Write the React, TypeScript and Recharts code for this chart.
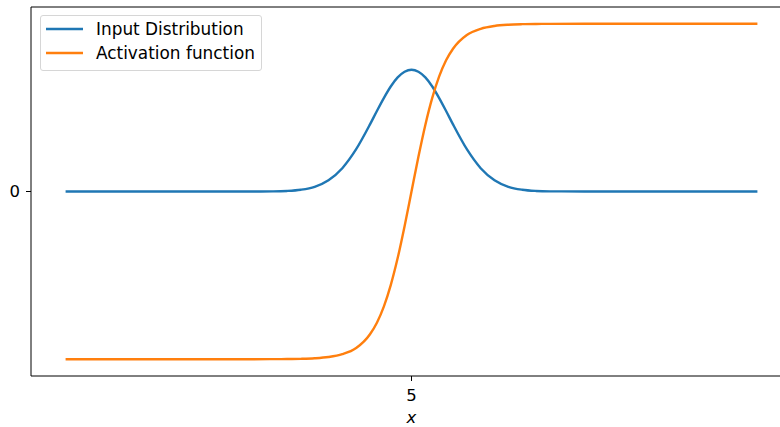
import React from "react";
import {
  LineChart,
  Line,
  XAxis,
  YAxis,
  ReferenceLine,
} from "recharts";

// sample positions along x
const xs = [
  0, 0.5, 1, 1.5, 2, 2.5, 3, 3.2, 3.4, 3.6, 3.8, 4, 4.2, 4.4, 4.5, 4.6, 4.7, 4.8, 4.9, 5,
  5.1, 5.2, 5.3, 5.4, 5.5, 5.6, 5.8, 6, 6.2, 6.4, 6.6, 6.8, 7, 7.5, 8, 8.5, 9, 9.5, 10,
];

const inputDistribution = [
  0, 0, 0, 0, 0, 0, 0.001, 0.0034, 0.0106, 0.028, 0.067, 0.139, 0.252, 0.4, 0.48, 0.557, 0.626, 0.68, 0.714, 0.726,
  0.714, 0.68, 0.626, 0.557, 0.48, 0.4, 0.252, 0.139, 0.067, 0.028, 0.0106, 0.0034, 0.001, 0, 0, 0, 0, 0, 0,
];

const activation = [
  -1, -1, -1, -1, -1, -1, -0.9996, -0.999, -0.9976, -0.9944, -0.987, -0.97, -0.933, -0.851, -0.782, -0.686, -0.558, -0.397, -0.207, 0,
  0.207, 0.397, 0.558, 0.686, 0.782, 0.851, 0.933, 0.97, 0.987, 0.9944, 0.9976, 0.999, 0.9996, 1, 1, 1, 1, 1, 1,
];

const xTicks = [5];
const yTicks = [0];

const seriesNames = ["Input Distribution", "Activation function"];
const seriesColors = ["#1f77b4", "#ff7f0e"];

const data = xs.map((x, i) => ({
  x,
  input: inputDistribution[i],
  act: activation[i],
}));

const font = "'DejaVu Sans', sans-serif";
const fontSize = 16.5;

// matplotlib-style legend box, laid over the plot
const LegendBox = () => (
  <div
    style={{
      position: "absolute",
      left: 40,
      top: 15,
      boxSizing: "border-box",
      width: 222,
      height: 56,
      border: "1px solid #d6d6d6",
      borderRadius: 3,
      background: "rgba(255,255,255,0.8)",
      paddingTop: 1,
      fontFamily: font,
      fontSize: 16.9,
      color: "#000",
    }}
  >
    {seriesNames.map((name, i) => (
      <div key={name} style={{ height: 24, display: "flex", alignItems: "center" }}>
        <svg width={55} height={24} style={{ flex: "none" }}>
          <line x1={5} x2={42} y1={12} y2={12} stroke={seriesColors[i]} strokeWidth={2.4} />
        </svg>
        <span style={{ whiteSpace: "nowrap" }}>{name}</span>
      </div>
    ))}
  </div>
);

export default function App() {
  return (
    <div
      style={{
        position: "absolute",
        left: 0,
        top: 0,
        width: 780,
        height: 427,
        overflow: "hidden",
        background: "#fff",
      }}
    >
      <LineChart
        width={792}
        height={427}
        data={data}
        margin={{ top: 7, right: 0, left: 0, bottom: 0 }}
      >
        <XAxis
          dataKey="x"
          type="number"
          domain={[-0.5, 10.5]}
          ticks={xTicks}
          height={51}
          stroke="#000"
          tickSize={5}
          tickMargin={8}
          tick={{ fill: "#000", fontSize, fontFamily: font }}
          label={{
            value: "x",
            position: "insideBottom",
            offset: 4,
            style: { fontStyle: "italic", fontSize, fontFamily: font, fill: "#000" },
          }}
        />
        <YAxis
          type="number"
          domain={[-1.1, 1.1]}
          ticks={yTicks}
          width={31}
          stroke="#000"
          tickSize={5}
          tickMargin={6}
          tick={{ fill: "#000", fontSize, fontFamily: font }}
        />
        <ReferenceLine y={1.1} stroke="#000" strokeWidth={1} />
        <Line
          type="monotone"
          dataKey="input"
          name={seriesNames[0]}
          stroke={seriesColors[0]}
          strokeWidth={2.4}
          dot={false}
          isAnimationActive={false}
        />
        <Line
          type="monotone"
          dataKey="act"
          name={seriesNames[1]}
          stroke={seriesColors[1]}
          strokeWidth={2.4}
          dot={false}
          isAnimationActive={false}
        />
      </LineChart>
      <LegendBox />
    </div>
  );
}
